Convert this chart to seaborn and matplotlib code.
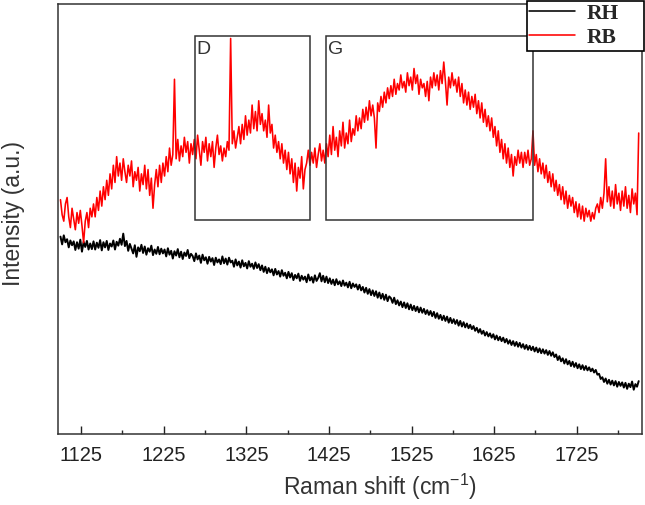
import numpy as np
import pandas as pd
import matplotlib
matplotlib.use("Agg")
import matplotlib.pyplot as plt
from matplotlib.patches import Rectangle
import seaborn as sns

# === data: Raman shift grid (cm-1), 2 cm-1 steps from 1100 to 1800 ===
x_start = 1100
x_step = 2

# RB (red) spectrum (one row = 40 cm-1)
rb = [
    54.5, 51.0, 49.5, 53.5, 55.0, 50.5, 48.0, 52.5, 50.0, 47.5, 51.5, 49.0, 52.0, 48.5, 44.5, 49.5, 51.5, 48.0, 52.5, 50.5,
    53.5, 50.5, 55.0, 52.0, 56.5, 53.0, 57.5, 54.5, 59.0, 55.5, 60.5, 57.0, 62.5, 58.5, 64.5, 60.0, 63.0, 59.0, 64.0, 61.0,
    58.5, 62.5, 60.0, 63.5, 57.5, 61.0, 59.0, 62.0, 56.5, 60.5, 58.0, 62.5, 57.0, 61.5, 55.5, 59.5, 52.5, 58.0, 61.5, 57.5,
    62.5, 58.5, 63.0, 60.0, 64.5, 61.0, 66.5, 62.5, 65.0, 82.5, 64.0, 68.5, 63.5, 67.0, 64.5, 69.0, 65.5, 68.0, 63.0, 67.5,
    65.0, 68.5, 64.0, 69.5, 66.0, 62.5, 68.0, 65.5, 69.0, 63.5, 67.5, 64.5, 68.0, 62.0, 66.5, 69.5, 65.0, 67.0, 63.5, 66.5,
    64.5, 68.0, 66.0, 92.0, 67.5, 70.5, 66.5, 69.0, 71.5, 67.5, 72.0, 68.5, 74.0, 69.5, 73.0, 70.0, 76.5, 71.0, 75.0, 70.5,
    77.5, 72.0, 74.5, 70.5, 73.0, 69.0, 76.5, 70.0, 72.0, 66.5, 69.5, 65.5, 68.0, 64.0, 67.5, 63.0, 66.0, 61.5, 65.5, 60.5,
    64.0, 58.5, 63.0, 56.5, 62.0, 59.5, 64.5, 57.0, 61.5, 63.0, 66.0, 62.5, 65.5, 63.0, 66.5, 62.0, 65.0, 67.5, 63.5, 66.0,
    63.0, 67.5, 64.5, 69.5, 65.0, 71.5, 66.0, 69.0, 64.5, 70.5, 67.0, 72.5, 66.5, 70.0, 67.5, 73.0, 68.0, 71.0, 69.5, 74.0,
    70.5, 73.5, 71.0, 75.5, 72.5, 76.0, 73.0, 77.5, 74.0, 76.5, 73.5, 66.5, 77.0, 75.0, 78.5, 76.0, 79.5, 77.0, 80.5, 78.0,
    81.0, 78.5, 82.5, 79.0, 81.5, 80.0, 83.5, 80.5, 82.0, 79.5, 84.0, 81.0, 83.0, 80.0, 85.0, 81.5, 83.5, 79.0, 82.5, 80.5,
    81.5, 78.5, 82.0, 77.5, 83.0, 80.5, 84.0, 81.0, 83.5, 80.0, 84.5, 81.5, 86.5, 82.0, 76.5, 83.0, 80.5, 84.0, 81.0, 82.5,
    79.5, 83.0, 78.5, 81.5, 77.0, 80.0, 76.5, 79.5, 75.5, 78.5, 76.0, 79.0, 74.5, 77.5, 73.5, 77.0, 72.5, 75.5, 71.5, 74.0,
    70.5, 73.5, 69.0, 71.5, 67.0, 70.5, 65.5, 68.5, 64.0, 67.5, 63.0, 66.5, 62.0, 65.0, 60.0, 64.5, 62.5, 66.0, 63.0, 65.5,
    62.0, 65.5, 63.0, 66.0, 62.5, 64.0, 70.5, 62.5, 65.0, 61.0, 64.0, 60.5, 63.0, 59.5, 62.5, 58.5, 61.0, 57.5, 60.5, 56.5,
    59.0, 55.5, 58.0, 54.5, 57.5, 53.5, 56.5, 52.5, 55.5, 53.0, 55.0, 51.5, 54.0, 50.5, 53.5, 50.0, 53.0, 49.5, 52.5, 50.5,
    52.0, 49.5, 51.5, 50.0, 52.5, 53.5, 51.5, 55.0, 52.5, 56.0, 64.0, 54.0, 57.5, 53.0, 56.5, 52.5, 58.0, 53.5, 56.0, 52.0,
    56.5, 53.0, 57.5, 52.5, 55.5, 51.5, 57.0, 53.5, 56.0, 51.0, 70.0,
]

# RH (black) spectrum
rh = [
    45.9, 44.1, 46.2, 44.6, 45.3, 43.4, 45.0, 43.9, 44.8, 42.8, 44.6, 43.1, 45.2, 42.4, 44.7, 43.5, 44.9, 42.9, 44.3, 43.0,
    44.8, 42.9, 44.5, 43.3, 45.1, 42.7, 44.6, 43.4, 44.9, 42.8, 44.3, 43.6, 45.0, 42.9, 44.7, 43.8, 45.4, 44.0, 46.6, 43.7,
    44.9, 42.6, 44.2, 43.1, 42.0, 43.9, 41.2, 43.4, 42.5, 44.0, 42.1, 43.6, 41.7, 43.2, 42.4, 43.8, 41.6, 42.9, 41.9, 43.5,
    41.8, 43.1, 42.0, 42.9, 41.3, 43.2, 41.7, 42.6, 40.8, 42.5, 41.5, 43.0, 41.1, 42.4, 40.7, 42.2, 41.4, 42.8, 40.9, 41.9,
    41.4, 40.2, 42.0, 40.6, 41.5, 39.8, 41.7, 40.4, 41.1, 39.6, 41.2, 40.1, 40.9, 39.3, 41.0, 39.9, 40.6, 39.5, 41.3, 39.7,
    40.8, 39.4, 41.0, 39.9, 40.3, 38.9, 40.6, 39.2, 40.1, 38.7, 40.4, 39.0, 39.8, 38.5, 40.2, 38.9, 39.6, 38.4, 39.9, 38.6,
    39.5, 38.1, 39.2, 37.7, 38.9, 37.4, 38.6, 37.6, 38.3, 36.9, 38.4, 37.1, 37.9, 36.6, 38.1, 36.8, 37.5, 36.2, 37.7, 36.4,
    37.4, 35.8, 37.0, 36.2, 37.3, 35.6, 36.8, 35.9, 36.6, 35.3, 37.1, 35.7, 36.5, 35.2, 36.9, 35.6, 36.3, 37.4, 35.5, 36.8,
    35.3, 36.6, 35.1, 36.2, 34.9, 35.9, 34.6, 36.0, 34.8, 35.5, 34.4, 35.7, 34.5, 35.2, 34.1, 35.4, 33.9, 35.0, 34.2, 34.8,
    33.6, 34.7, 33.4, 34.2, 32.9, 34.0, 32.6, 33.7, 32.3, 33.4, 32.1, 33.2, 31.7, 32.9, 31.5, 32.6, 31.2, 32.4, 30.9, 32.0,
    31.6, 30.5, 31.7, 30.2, 31.1, 29.9, 30.8, 29.5, 30.6, 29.3, 30.4, 29.0, 30.1, 28.8, 29.8, 28.6, 29.6, 28.3, 29.4, 28.2,
    29.1, 27.9, 28.8, 27.7, 28.6, 27.4, 28.4, 27.0, 28.1, 26.8, 27.7, 26.5, 27.5, 26.3, 27.3, 25.9, 27.0, 25.8, 26.7, 25.6,
    26.5, 25.2, 26.3, 25.0, 26.0, 24.8, 25.7, 24.6, 25.4, 24.4, 25.1, 24.0, 24.7, 23.6, 24.4, 23.3, 24.0, 22.9, 23.7, 22.7,
    23.4, 22.4, 23.2, 22.0, 22.9, 21.8, 22.6, 21.6, 22.4, 21.3, 22.1, 21.0, 21.8, 20.7, 21.6, 20.5, 21.4, 20.3, 21.2, 20.1,
    20.9, 19.8, 20.7, 19.6, 20.5, 19.5, 20.3, 19.2, 20.1, 19.0, 19.9, 18.8, 19.7, 18.7, 19.5, 18.4, 19.3, 18.2, 19.0, 17.9,
    18.5, 17.2, 18.1, 16.9, 17.6, 16.4, 17.4, 16.2, 17.0, 15.8, 16.8, 15.6, 16.5, 15.3, 16.2, 15.1, 16.0, 14.9, 15.8, 14.8,
    15.5, 14.6, 15.2, 14.3, 14.9, 13.8, 14.0, 12.8, 13.2, 12.1, 12.9, 11.7, 12.6, 11.5, 12.4, 11.3, 12.3, 11.0, 12.1, 11.2,
    12.0, 10.8, 11.9, 10.5, 11.7, 10.9, 12.2, 10.3, 11.6, 11.0, 12.3,
]

# band regions (cm-1) and box height (a.u.)
bands = ["D", "G"]
band_lo = [1263, 1422]
band_hi = [1402, 1672]
box_y = (49.7, 92.5)

xticks = [1125, 1225, 1325, 1425, 1525, 1625, 1725]

df = pd.concat([
    pd.DataFrame({"shift": x_start + x_step * np.arange(len(rh)), "intensity": rh, "sample": "RH"}),
    pd.DataFrame({"shift": x_start + x_step * np.arange(len(rb)), "intensity": rb, "sample": "RB"}),
], ignore_index=True)

# === plot ===
sns.set_style("ticks")
plt.rcParams["font.family"] = ["Liberation Sans", "DejaVu Sans"]
plt.rcParams["mathtext.default"] = "regular"

fig = plt.figure(figsize=(6.45, 5.06), dpi=100)
ax = fig.add_axes([58 / 645, 71 / 506, 584 / 645, 430 / 506])

sns.lineplot(data=df, x="shift", y="intensity", hue="sample",
             palette={"RH": "black", "RB": "red"}, linewidth=1.15,
             estimator=None, ax=ax)
ax.lines[0].set_linewidth(1.4)

for name, lo, hi in zip(bands, band_lo, band_hi):
    ax.add_patch(Rectangle((lo, box_y[0]), hi - lo, box_y[1] - box_y[0],
                           fill=False, edgecolor="#333333", linewidth=1.1, zorder=3))
    ax.text(lo + 2, box_y[1] - 0.8, name, ha="left", va="top",
            fontsize=14, color="#333333")

ax.set_xlim(1097, 1804)
ax.set_ylim(0, 100)
ax.set_xticks(xticks)
ax.set_xticks([t + 50 for t in xticks], minor=True)
ax.set_yticks([])
ax.tick_params(axis="x", which="major", direction="in", length=6, width=1,
               labelsize=14.5, pad=8, colors="#222222")
ax.tick_params(axis="x", which="minor", direction="in", length=3, width=1)
for s in ax.spines.values():
    s.set_color("#333333")
    s.set_linewidth(1.1)

ax.set_xlabel("Raman shift (cm$^{-1}$)", fontsize=16.5, color="#333333")
ax.xaxis.set_label_coords((380 - 58) / 584, -37 / 430)
ax.set_ylabel("Intensity (a.u.)", fontsize=16.5, color="#333333")
ax.yaxis.set_label_coords(-(58 - 25) / 584, 0.5 + 6 / 430)

# legend: white box overlapping the top right corner
ax.add_patch(Rectangle((527 / 645, 1 - 52 / 506), 117 / 645, 50 / 506,
                       transform=fig.transFigure, clip_on=False, facecolor="white",
                       edgecolor="black", linewidth=1.2, zorder=4))
leg = ax.legend(loc="upper left", bbox_to_anchor=(529 / 645, 1 - 4 / 506),
                bbox_transform=fig.transFigure, borderaxespad=0, borderpad=0, title=None,
                prop={"family": "Liberation Serif", "weight": "bold", "size": 15.5},
                handlelength=2.15, handletextpad=0.55, labelspacing=0.2,
                frameon=False)
leg.set_zorder(5)

plt.savefig("out.png", dpi=100)
plt.close()
